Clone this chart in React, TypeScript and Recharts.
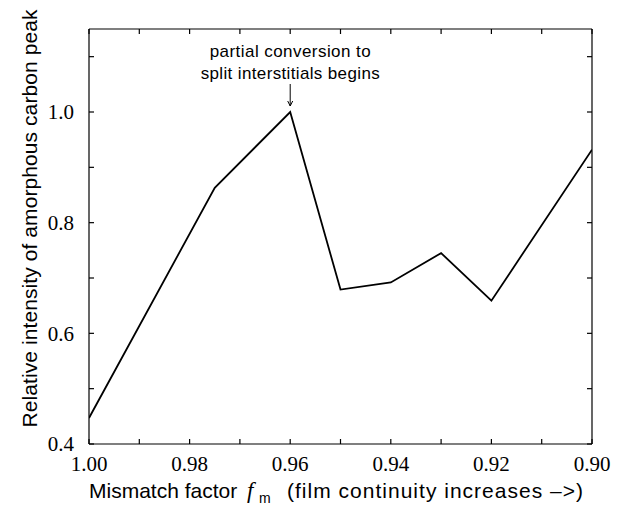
import React from "react";
import { LineChart, Line, XAxis, YAxis, ReferenceDot } from "recharts";

const mismatch = [1.0, 0.975, 0.96, 0.95, 0.94, 0.93, 0.92, 0.9];
const intensity = [0.447, 0.863, 1.0, 0.679, 0.692, 0.745, 0.659, 0.932];
const xTicks = [1.0, 0.99, 0.98, 0.97, 0.96, 0.95, 0.94, 0.93, 0.92, 0.91, 0.9];
const yTicks = [0.4, 0.5, 0.6, 0.7, 0.8, 0.9, 1.0, 1.1];
const annotationLines = ["partial conversion to", "split interstitials begins"];
const peakX = 0.96;
const peakY = 1.0;

const data = mismatch.map((m, i) => ({ m, v: intensity[i] }));

const SERIF = "'Liberation Serif', 'Times New Roman', serif";
const SANS = "'Liberation Sans', Arial, Helvetica, sans-serif";
const TICK = 5;
const INK = "#000";

const BottomTick = (props: any) => {
  const { x, y, payload } = props;
  const v = payload.value;
  const labeled = Math.round(v * 100) % 2 === 0;
  return (
    <g>
      <line x1={x} y1={y} x2={x} y2={y - TICK} stroke={INK} strokeWidth={1.2} />
      {labeled && (
        <text x={x} y={y + 27} textAnchor="middle" fontFamily={SERIF} fontSize={21} fill={INK}>
          {v.toFixed(2)}
        </text>
      )}
    </g>
  );
};

const TopTick = (props: any) => {
  const { x, y } = props;
  return <line x1={x} y1={y} x2={x} y2={y + TICK} stroke={INK} strokeWidth={1.2} />;
};

const LeftTick = (props: any) => {
  const { x, y, payload } = props;
  const v = payload.value;
  const labeled = Math.round(v * 10) % 2 === 0;
  return (
    <g>
      <line x1={x} y1={y} x2={x + TICK} y2={y} stroke={INK} strokeWidth={1.2} />
      {labeled && (
        <text x={x - 15} y={y} dy="0.35em" textAnchor="end" fontFamily={SERIF} fontSize={21} fill={INK}>
          {v.toFixed(1)}
        </text>
      )}
    </g>
  );
};

const RightTick = (props: any) => {
  const { x, y } = props;
  return <line x1={x} y1={y} x2={x - TICK} y2={y} stroke={INK} strokeWidth={1.2} />;
};

const XTitle = (props: any) => {
  const vb = props.viewBox || {};
  const L = vb.x;
  const y = vb.y + vb.height + 53;
  return (
    <text y={y} fontFamily={SANS} fontSize={21} fill={INK}>
      <tspan x={L}>Mismatch factor</tspan>
      <tspan x={L + 158} fontFamily={SERIF} fontStyle="italic" fontSize={23}>f</tspan>
      <tspan x={L + 170} dy={5} fontSize={14}>m</tspan>
      <tspan x={L + 198} dy={-5} textLength={296} lengthAdjust="spacing">{"(film continuity increases \u2013>)"}</tspan>
    </text>
  );
};

const YTitle = (props: any) => {
  const vb = props.viewBox || {};
  const x = vb.x + vb.width - 52;
  const cy = vb.y + vb.height / 2 - 18;
  return (
    <text
      x={x}
      y={cy}
      transform={`rotate(-90, ${x}, ${cy})`}
      textAnchor="middle"
      fontFamily={SANS}
      fontSize={21}
      textLength={418}
      lengthAdjust="spacing"
      fill={INK}
    >
      Relative intensity of amorphous carbon peak
    </text>
  );
};

const Annotation = (props: any) => {
  const { cx, cy } = props;
  if (cx == null || cy == null) return null;
  const tipY = cy - 6;
  const topY = cy - 28;
  return (
    <g>
      <text x={cx} y={cy - 55.5} textAnchor="middle" fontFamily={SANS} fontSize={17} textLength={161} lengthAdjust="spacing" fill={INK}>
        {annotationLines[0]}
      </text>
      <text x={cx} y={cy - 33} textAnchor="middle" fontFamily={SANS} fontSize={17} textLength={179} lengthAdjust="spacing" fill={INK}>
        {annotationLines[1]}
      </text>
      <line x1={cx} y1={topY} x2={cx} y2={tipY} stroke={INK} strokeWidth={1} />
      <path d={`M ${cx - 2.5} ${tipY - 5} L ${cx} ${tipY} L ${cx + 2.5} ${tipY - 5}`} stroke={INK} strokeWidth={1} fill="none" />
    </g>
  );
};

export default function App() {
  return (
    <div style={{ width: 612, height: 500, background: "#fff" }}>
      <LineChart
        width={612}
        height={500}
        data={data}
        margin={{ top: 20, right: 27, bottom: 63, left: 80 }}
      >
        <XAxis
          dataKey="m"
          type="number"
          domain={[0.9, 1.0]}
          reversed
          ticks={xTicks}
          interval={0}
          height={1}
          tickSize={0}
          tickMargin={0}
          tick={<BottomTick />}
          axisLine={{ stroke: INK, strokeWidth: 1.2 }}
          tickLine={false}
          allowDataOverflow
          label={<XTitle />}
        />
        <XAxis
          xAxisId="top"
          dataKey="m"
          orientation="top"
          type="number"
          domain={[0.9, 1.0]}
          reversed
          ticks={xTicks}
          interval={0}
          height={1}
          tickSize={0}
          tickMargin={0}
          tick={<TopTick />}
          axisLine={{ stroke: INK, strokeWidth: 1.2 }}
          tickLine={false}
          allowDataOverflow
        />
        <YAxis
          type="number"
          domain={[0.4, 1.15]}
          ticks={yTicks}
          interval={0}
          width={1}
          tickSize={0}
          tickMargin={0}
          tick={<LeftTick />}
          axisLine={{ stroke: INK, strokeWidth: 1.2 }}
          tickLine={false}
          allowDataOverflow
          label={<YTitle />}
        />
        <YAxis
          yAxisId="right"
          orientation="right"
          type="number"
          domain={[0.4, 1.15]}
          ticks={yTicks}
          interval={0}
          width={1}
          tickSize={0}
          tickMargin={0}
          tick={<RightTick />}
          axisLine={{ stroke: INK, strokeWidth: 1.2 }}
          tickLine={false}
          allowDataOverflow
        />
        <Line
          xAxisId="top"
          yAxisId="right"
          type="linear"
          dataKey="v"
          stroke="none"
          dot={false}
          activeDot={false}
          legendType="none"
          isAnimationActive={false}
        />
        <Line
          type="linear"
          dataKey="v"
          stroke={INK}
          strokeWidth={1.8}
          dot={false}
          activeDot={false}
          isAnimationActive={false}
        />
        <ReferenceDot x={peakX} y={peakY} r={0} shape={<Annotation />} ifOverflow="visible" />
      </LineChart>
    </div>
  );
}
